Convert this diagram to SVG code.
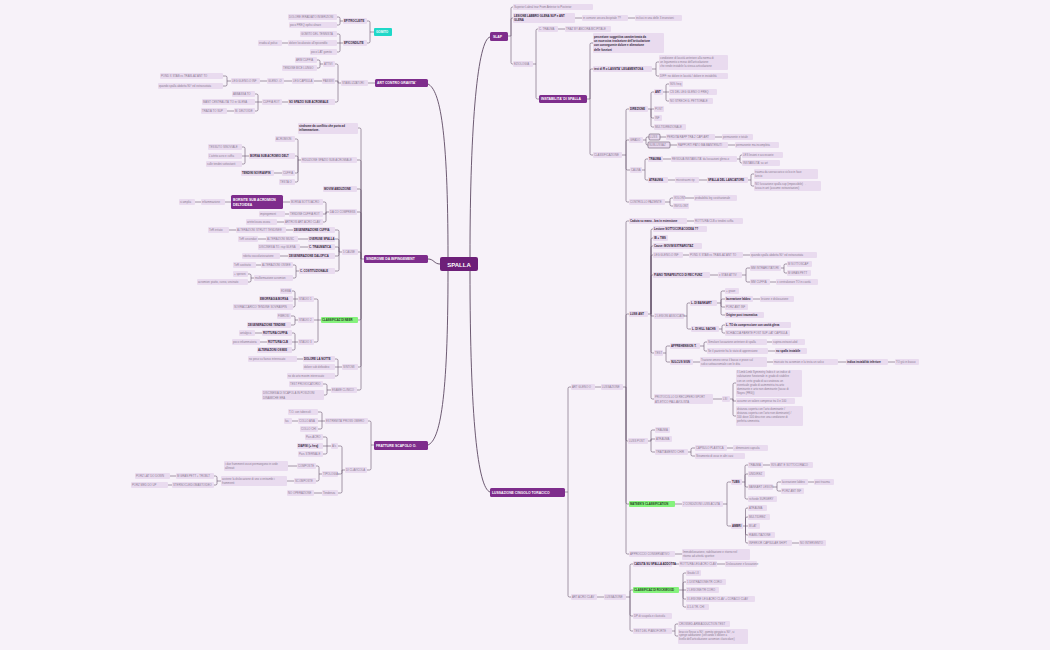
<svg xmlns="http://www.w3.org/2000/svg" width="1050" height="650" viewBox="0 0 1050 650">
<style>
text{font-family:"Liberation Sans",Arial,sans-serif;font-size:2.8px;fill:#8c7c93}
.n rect{fill:#e9dbef}
.k rect{fill:#e9dbef}
.k text{font-weight:bold;fill:#33263a}
.x rect{fill:#e9dbef;stroke:#4a3a50;stroke-width:0.5}
.m rect{fill:#7e2d8c}
.m text{font-size:3.4px;font-weight:bold;fill:#ffffff}
.g rect{fill:#86f27d}
.g text{font-weight:bold;fill:#1f3a1c}
.c rect{fill:#1fd8c8}
.c text{font-size:3px;font-weight:bold;fill:#ffffff}
#links path{fill:none;stroke:#5d4a63;stroke-width:0.55}
#main-links path{fill:none;stroke:#5d4a63;stroke-width:0.9}
</style>
<rect width="1050" height="650" fill="#f7f2f9"/>
<g id="main-links">
<path d="M470,257C470,120 478,40 490,37"/>
<path d="M470,271C470,420 478,488 490,492"/>
<path d="M448,257C448,130 440,90 428,84"/>
<path d="M440,264C434,264 434,259 428,259"/>
<path d="M448,271C448,400 440,440 428,445"/>
</g>
<g id="links">
<path d="M374,32H370 M370,32V22.5Q370,21 368.5,21H367 M370,32V41.5Q370,43 368.5,43H367"/>
<path d="M343,21H340 M340,21V18.5Q340,17 338.5,17H337 M340,21V23.5Q340,25 338.5,25H337"/>
<path d="M343,43H340 M340,43V35.5Q340,34 338.5,34H337 M340,43H337 M340,43V50.5Q340,52 338.5,52H337 M288,43H282"/>
<path d="M375,83H368 M341,83H338 M338,83V65.5Q338,64 336.5,64H335 M338,83L338,81H335 M338,83V100.5Q338,102 336.5,102H335"/>
<path d="M323,64H320 M320,64V61.5Q320,60 318.5,60H317 M320,64V66.5Q320,68 318.5,68H317"/>
<path d="M322,81H314 M292,81H284 M267,81H260 M231,81H227 M227,81V77.5Q227,76 225.5,76H223 M227,81V84.5Q227,86 225.5,86H223"/>
<path d="M288,102H282 M262,102H258 M258,102V95.5Q258,94 256.5,94H255 M258,102H255 M258,102V109.5Q258,111 256.5,111H255 M234,111H227"/>
<path d="M364,259H361 M361,259V129.5Q361,128 359.5,128H358 M361,259V161.5Q361,160 359.5,160H357 M361,259V190.5Q361,189 359.5,189H357 M361,259V213.5Q361,212 359.5,212H357 M361,259V253.5Q361,252 359.5,252H358 M361,259V318.5Q361,320 359.5,320H358 M361,259V365.5Q361,367 359.5,367H358 M361,259V388.5Q361,390 359.5,390H357"/>
<path d="M301,160H298 M298,160V140.5Q298,139 296.5,139H295 M298,160V157.5Q298,156 296.5,156H295 M298,160V171.5Q298,173 296.5,173H295 M298,160V180.5Q298,182 296.5,182H295"/>
<path d="M249,156H245 M245,156V148.5Q245,147 243.5,147H242 M245,156H242 M245,156V162.5Q245,164 243.5,164H242 M282,173H274"/>
<path d="M329,212H326 M326,212V203.5Q326,202 324.5,202H323 M326,212L326,214H323 M326,212V220.5Q326,222 324.5,222H323 M290,202H283 M231,202H225 M201,202H195 M289,214H285 M284,222H277"/>
<path d="M342,252H339 M339,252V231.5Q339,230 337.5,230H335 M339,252V240.5Q339,239 337.5,239H335 M339,252V248.5Q339,247 337.5,247H335 M339,252V254.5Q339,256 337.5,256H335 M339,252V269.5Q339,271 337.5,271H335"/>
<path d="M293,230H286 M236,230H229 M308,239H298 M266,239H258 M308,247H300 M288,256H280"/>
<path d="M299,271H296 M296,271V266.5Q296,265 294.5,265H293 M296,271V276.5Q296,278 294.5,278H293 M261,265H256 M254,278H251 M251,278V275.5Q251,274 249.5,274H248 M251,278V280.5Q251,282 249.5,282H248"/>
<path d="M321,320H318 M318,320V300.5Q318,299 316.5,299H314 M318,320H314 M318,320V340.5Q318,342 316.5,342H314"/>
<path d="M298,299H295 M295,299V292.5Q295,291 293.5,291H292 M295,299H292 M295,299V305.5Q295,307 293.5,307H292"/>
<path d="M298,320H295 M295,320V317.5Q295,316 293.5,316H291 M295,320V323.5Q295,325 293.5,325H291"/>
<path d="M298,342H295 M295,342V334.5Q295,333 293.5,333H292 M295,342H292 M295,342V348.5Q295,350 293.5,350H292 M262,333H255 M267,342H260"/>
<path d="M342,367H338 M338,367V360.5Q338,359 336.5,359H335 M338,367H335 M338,367V374.5Q338,376 336.5,376H335 M303,359H297"/>
<path d="M331,390H327 M327,390V385.5Q327,384 325.5,384H323 M327,390V393.5Q327,395 325.5,395H324"/>
<path d="M374,445H371 M371,445V422.5Q371,421 369.5,421H368 M371,445V468.5Q371,470 369.5,470H367"/>
<path d="M325,421H322 M322,421V413.5Q322,412 320.5,412H318 M322,421H318 M322,421V427.5Q322,429 320.5,429H318 M298,421H292"/>
<path d="M345,470H342 M342,470V447.5Q342,446 340.5,446H338 M342,470V472.5Q342,474 340.5,474H338 M342,470V491.5Q342,493 340.5,493H338"/>
<path d="M331,446H327 M327,446V438.5Q327,437 325.5,437H323 M327,446H323 M327,446V452.5Q327,454 325.5,454H323"/>
<path d="M322,474H319 M319,474V467.5Q319,466 317.5,466H316 M319,474V479.5Q319,481 317.5,481H316 M297,466H288 M294,481H287"/>
<path d="M221,481H217 M217,481V477.5Q217,476 215.5,476H214 M217,481V483.5Q217,485 215.5,485H214 M176,476H170 M172,485H168 M322,493H314"/>
<path d="M508,36H511 M511,36V8.5Q511,7 512.5,7H513 M511,36V19.5Q511,18 512.5,18H513 M511,36V62.5Q511,64 512.5,64H513 M575,18H582 M628,18H635"/>
<path d="M533,64H536 M536,64V30.5Q536,29 537.5,29H538 M536,64V97.5Q536,99 537.5,99H539 M558,29H565"/>
<path d="M587,99H590 M590,99V44.5Q590,43 591.5,43H593 M590,99V70.5Q590,69 591.5,69H593 M590,99V153.5Q590,155 591.5,155H593"/>
<path d="M652,69H656 M656,69V63.5Q656,62 657.5,62H659 M656,69V74.5Q656,76 657.5,76H659"/>
<path d="M622,155H626 M626,155V110.5Q626,109 627.5,109H629 M626,155V141.5Q626,140 627.5,140H629 M626,155V168.5Q626,170 627.5,170H630 M626,155V200.5Q626,202 627.5,202H629"/>
<path d="M648,109H651 M651,109V93.5Q651,92 652.5,92H654 M651,109H654 M651,109V116.5Q651,118 652.5,118H654 M651,109V125.5Q651,127 652.5,127H654"/>
<path d="M663,92H666 M666,92V85.5Q666,84 667.5,84H669 M666,92H669 M666,92V99.5Q666,101 667.5,101H669"/>
<path d="M643,140H646 M646,140V138.5Q646,137 647.5,137H649 M646,140V143.5Q646,145 647.5,145H648 M660,137H666 M715,137H722 M670,145H677 M728,145H735"/>
<path d="M642,170H645 M645,170V160.5Q645,159 646.5,159H648 M645,170V178.5Q645,180 646.5,180H648 M663,159H671 M737,159H740 M740,159V156.5Q740,155 741.5,155H742 M740,159V161.5Q740,163 741.5,163H742"/>
<path d="M668,180H675 M699,180H707 M748,180H751 M751,180V175.5Q751,174 752.5,174H754 M751,180V184.5Q751,186 752.5,186H754"/>
<path d="M665,202H670 M670,202V199.5Q670,198 671.5,198H673 M670,202V204.5Q670,206 671.5,206H673 M685,198H694"/>
<path d="M565,492H568 M568,492V388.5Q568,387 569.5,387H571 M568,492V595.5Q568,597 569.5,597H571 M595,387H601"/>
<path d="M623,387H626 M626,387V222.5Q626,221 627.5,221H629 M626,387V315.5Q626,314 627.5,314H629 M626,387V439.5Q626,441 627.5,441H628 M626,387V502.5Q626,504 627.5,504H629 M626,387V552.5Q626,554 627.5,554H629 M687,221H694"/>
<path d="M648,314H651 M651,314V230.5Q651,229 652.5,229H653 M651,314V239.5Q651,238 652.5,238H653 M651,314V247.5Q651,246 652.5,246H653 M651,314V256.5Q651,255 652.5,255H653 M651,314V276.5Q651,275 652.5,275H653 M651,314L651,316H654 M651,314V351.5Q651,353 652.5,353H654 M651,314V397.5Q651,399 652.5,399H654"/>
<path d="M683,255H689 M743,255H750 M710,275H718 M742,275H746 M746,275V269.5Q746,268 747.5,268H750 M746,275V280.5Q746,282 747.5,282H750 M781,268H784 M784,268V265.5Q784,264 785.5,264H787 M784,268V271.5Q784,273 785.5,273H787 M770,282H776"/>
<path d="M684,316H687 M687,316V304.5Q687,303 688.5,303H690 M687,316V327.5Q687,329 688.5,329H691"/>
<path d="M717,303H721 M721,303V292.5Q721,291 722.5,291H725 M721,303V300.5Q721,299 722.5,299H725 M721,303V305.5Q721,307 722.5,307H725 M721,303V313.5Q721,315 722.5,315H725 M753,299H760"/>
<path d="M719,329H722 M722,329V326.5Q722,325 723.5,325H725 M722,329V331.5Q722,333 723.5,333H725"/>
<path d="M663,353H666 M666,353V347.5Q666,346 667.5,346H670 M666,353V360.5Q666,362 667.5,362H670 M700,346H704 M704,346V343.5Q704,342 705.5,342H707 M704,346V349.5Q704,351 705.5,351H707 M767,342H772 M768,351H775"/>
<path d="M693,362H700 M767,362H773 M838,362H846 M888,362H895 M713,399H722"/>
<path d="M730,399H733 M733,399V384.5Q733,383 734.5,383H736 M733,399L733,401H736 M733,399V414.5Q733,416 734.5,416H736"/>
<path d="M648,441H651 M651,441V431.5Q651,430 652.5,430H655 M651,441L651,439H655 M651,441V450.5Q651,452 652.5,452H655 M688,452H691 M691,452V449.5Q691,448 692.5,448H695 M691,452V454.5Q691,456 692.5,456H695 M727,448H733"/>
<path d="M675,504H682 M723,504H727 M727,504V483.5Q727,482 728.5,482H731 M727,504V524.5Q727,526 728.5,526H731"/>
<path d="M742,482H745 M745,482V466.5Q745,465 746.5,465H748 M745,482V475.5Q745,474 746.5,474H748 M745,482V485.5Q745,487 746.5,487H748 M745,482V497.5Q745,499 746.5,499H748 M763,465H770"/>
<path d="M773,487H777 M777,487V483.5Q777,482 778.5,482H781 M777,487V489.5Q777,491 778.5,491H781 M808,482H814"/>
<path d="M743,526H745.5 M745.5,526V509.5Q745.5,508 747,508H748 M745.5,526V518.5Q745.5,517 747,517H748 M745.5,526H748 M745.5,526V533.5Q745.5,535 747,535H748 M745.5,526V541.5Q745.5,543 747,543H748 M792,543H799 M675,554H682"/>
<path d="M597,597H604 M626,597H630 M630,597V565.5Q630,564 631.5,564H633 M630,597V591.5Q630,590 631.5,590H633 M630,597V614.5Q630,616 631.5,616H633 M630,597V629.5Q630,631 631.5,631H633 M672,564H679 M717,564H725"/>
<path d="M679,590H683 M683,590V574.5Q683,573 684.5,573H686 M683,590V583.5Q683,582 684.5,582H686 M683,590H686 M683,590V597.5Q683,599 684.5,599H686 M683,590V605.5Q683,607 684.5,607H686"/>
<path d="M672,631H675 M675,631V625.5Q675,624 676.5,624H678 M675,631V634.5Q675,636 676.5,636H678"/>
</g>
<g id="spalla"><rect x="440" y="257" width="38" height="14" rx="2" fill="#6d1f78"/><text x="459" y="266.6" text-anchor="middle" style="font-size:6px;font-weight:bold;fill:#fff">SPALLA</text></g>
<g id="gomito" class="c"><rect x="374" y="28" width="18" height="8" rx="1"/><text x="376" y="33.1">GOMITO</text></g>
<g id="epitrocleite" class="k"><rect x="343" y="18" width="24" height="6" rx="1"/><text x="344" y="22">EPITROCLEITE</text></g>
<g id="dolore-irr" class="n"><rect x="288" y="14" width="49" height="6" rx="1"/><text x="289" y="18">DOLORE IRRADIATO INSERZIONI</text></g>
<g id="poco-freq" class="n"><rect x="289" y="22" width="48" height="6" rx="1"/><text x="290" y="26">poco FREQ epifisi ulnare</text></g>
<g id="epicondilite" class="k"><rect x="343" y="40" width="24" height="6" rx="1"/><text x="344" y="44">EPICONDILITE</text></g>
<g id="gomito-tennista" class="n"><rect x="300" y="31" width="37" height="6" rx="1"/><text x="301" y="35">GOMITO DEL TENNISTA</text></g>
<g id="dolore-loc" class="n"><rect x="288" y="40" width="49" height="6" rx="1"/><text x="289" y="44">dolore localizzato all'epicondilo</text></g>
<g id="irradia" class="n"><rect x="258" y="40" width="24" height="6" rx="1"/><text x="259" y="44">irradia al polso</text></g>
<g id="poco-lat" class="n"><rect x="310" y="49" width="27" height="6" rx="1"/><text x="311" y="53">poco LAT gomito</text></g>
<g id="art-contro" class="m"><rect x="375" y="79" width="53" height="8" rx="1.5"/><text x="377" y="84.2">ART CONTRO GRAVITA'</text></g>
<g id="stabilizzatori" class="n"><rect x="341" y="80" width="27" height="6" rx="1"/><text x="342" y="84">STABILIZZATORI</text></g>
<g id="attivi" class="n"><rect x="323" y="61" width="12" height="6" rx="1"/><text x="324" y="65">ATTIVI</text></g>
<g id="arm-cuffia" class="n"><rect x="295" y="57" width="22" height="6" rx="1"/><text x="296" y="61">ARM CUFFIA</text></g>
<g id="tendine-bice" class="n"><rect x="282" y="65" width="35" height="6" rx="1"/><text x="283" y="69">TENDINE BICE LUNGO</text></g>
<g id="passivi" class="n"><rect x="322" y="78" width="13" height="6" rx="1"/><text x="323" y="82">PASSIVI</text></g>
<g id="leg-capsula" class="n"><rect x="292" y="78" width="22" height="6" rx="1"/><text x="293" y="82">LEG CAPSULA</text></g>
<g id="gleno-o" class="n"><rect x="267" y="78" width="17" height="6" rx="1"/><text x="268" y="82">GLENO -O</text></g>
<g id="leg-gleno-inf" class="n"><rect x="231" y="78" width="29" height="6" rx="1"/><text x="232" y="82">LEG GLENO-O INF</text></g>
<g id="pond" class="n"><rect x="160" y="73" width="63" height="6" rx="1"/><text x="161" y="77">POND X STAB vs TRASLAZ ANT TO</text></g>
<g id="quando" class="n"><rect x="158" y="83" width="65" height="6" rx="1"/><text x="159" y="87">quando spalla abdotta 90° ed extraruotata</text></g>
<g id="so-spazio" class="k"><rect x="288" y="99" width="47" height="6" rx="1"/><text x="289" y="103">SO SPAZIO SUB ACROMIALE</text></g>
<g id="cuffia-rot" class="n"><rect x="262" y="99" width="20" height="6" rx="1"/><text x="263" y="103">CUFFIA ROT</text></g>
<g id="abbassa" class="n"><rect x="232" y="91" width="23" height="6" rx="1"/><text x="233" y="95">ABBASSA TO</text></g>
<g id="mant" class="n"><rect x="202" y="99" width="53" height="6" rx="1"/><text x="203" y="103">MANT CENTRALITA' TO in GLENA</text></g>
<g id="m-deltoide" class="n"><rect x="234" y="108" width="21" height="6" rx="1"/><text x="235" y="112">M. DELTOIDE</text></g>
<g id="traz-sup" class="n"><rect x="201" y="108" width="26" height="6" rx="1"/><text x="202" y="112">TRAZ/A TO SUP</text></g>
<g id="sindrome" class="m"><rect x="364" y="255" width="64" height="8" rx="1.5"/><text x="366" y="260.2">SINDROME DA IMPINGEMENT</text></g>
<g id="conflitto" class="k"><rect x="298" y="123" width="60" height="11" rx="1"/><text x="299" y="126.6">sindrome da conflitto che porta ad</text><text x="299" y="131.4">infiammazione.</text></g>
<g id="riduzione" class="n"><rect x="301" y="157" width="56" height="6" rx="1"/><text x="302" y="161">RIDUZIONE SPAZIO SUB ACROMIALE</text></g>
<g id="acromion" class="n"><rect x="275" y="136" width="20" height="6" rx="1"/><text x="276" y="140">ACROMION</text></g>
<g id="borsa-sub" class="k"><rect x="249" y="153" width="46" height="6" rx="1"/><text x="250" y="157">BORSA SUB ACROMIO DELT</text></g>
<g id="tessuto" class="n"><rect x="208" y="144" width="34" height="6" rx="1"/><text x="209" y="148">TESSUTO SINOVIALE</text></g>
<g id="attrito" class="n"><rect x="208" y="153" width="34" height="6" rx="1"/><text x="209" y="157">L'attrito acro e cuffia</text></g>
<g id="sulle" class="n"><rect x="206" y="161" width="36" height="6" rx="1"/><text x="207" y="165">sulle tendini sottostanti</text></g>
<g id="cuffia" class="n"><rect x="282" y="170" width="13" height="6" rx="1"/><text x="283" y="174">CUFFIA</text></g>
<g id="tendini-sovr" class="k"><rect x="241" y="170" width="33" height="6" rx="1"/><text x="242" y="174">TENDINI SOVRASPIN</text></g>
<g id="testa" class="n"><rect x="279" y="179" width="16" height="6" rx="1"/><text x="280" y="183">TESTA O</text></g>
<g id="movim" class="k"><rect x="323" y="186" width="34" height="6" rx="1"/><text x="324" y="190">MOVIM ABDUZIONE</text></g>
<g id="borsite" class="m"><rect x="231" y="195" width="52" height="14" rx="1.5"/><text x="233" y="200.5">BORSITE SUB ACROMION</text><text x="233" y="205.8">DELTOIDEA</text></g>
<g id="infiammazione" class="n"><rect x="201" y="199" width="24" height="6" rx="1"/><text x="202" y="203">infiammazione</text></g>
<g id="si-amplia" class="n"><rect x="179" y="199" width="16" height="6" rx="1"/><text x="180" y="203">si amplia</text></g>
<g id="borsa-sotto" class="n"><rect x="290" y="199" width="33" height="6" rx="1"/><text x="291" y="203">BORSA SOTTOACRO</text></g>
<g id="da-co" class="n"><rect x="329" y="209" width="28" height="6" rx="1"/><text x="330" y="213">DA CO COMPRESS</text></g>
<g id="impingement" class="n"><rect x="259" y="211" width="26" height="6" rx="1"/><text x="260" y="215">impingement</text></g>
<g id="tendine-cuffia" class="n"><rect x="289" y="211" width="34" height="6" rx="1"/><text x="290" y="215">TENDINE CUFFIA ROT</text></g>
<g id="artrite" class="n"><rect x="246" y="219" width="31" height="6" rx="1"/><text x="247" y="223">artrite/usura ossea</text></g>
<g id="artrosi" class="n"><rect x="284" y="219" width="39" height="6" rx="1"/><text x="285" y="223">ARTROSI ART ACRO CLAV</text></g>
<g id="ter-irr" class="n"><rect x="208" y="227" width="21" height="6" rx="1"/><text x="209" y="231">TeR irritato</text></g>
<g id="alt-strutt" class="n"><rect x="236" y="227" width="50" height="6" rx="1"/><text x="237" y="231">ALTERAZIONI STRUTT TENDINEE</text></g>
<g id="deg-cuffia" class="k"><rect x="293" y="227" width="42" height="6" rx="1"/><text x="294" y="231">DEGENERAZIONE CUFFIA</text></g>
<g id="ter-sec" class="n"><rect x="238" y="236" width="20" height="6" rx="1"/><text x="239" y="240">TeR secondari</text></g>
<g id="alt-musc" class="n"><rect x="266" y="236" width="32" height="6" rx="1"/><text x="267" y="240">ALTERAZIONI MUSC</text></g>
<g id="overuse" class="k"><rect x="308" y="236" width="27" height="6" rx="1"/><text x="309" y="240">OVERUSE SPALLA</text></g>
<g id="discinesia-to" class="n"><rect x="258" y="244" width="42" height="6" rx="1"/><text x="259" y="248">DISCINESIA TO. risp GLENA</text></g>
<g id="c-traum" class="k"><rect x="308" y="244" width="27" height="6" rx="1"/><text x="309" y="248">C. TRAUMATICA</text></g>
<g id="cinque-cause" class="n"><rect x="342" y="249" width="16" height="6" rx="1"/><text x="343" y="253">5 CAUSE</text></g>
<g id="ridotta" class="n"><rect x="242" y="253" width="38" height="6" rx="1"/><text x="243" y="257">ridotta vascolarizzazione</text></g>
<g id="deg-dal" class="k"><rect x="288" y="253" width="47" height="6" rx="1"/><text x="289" y="257">DEGENERAZIONE DALOPICA</text></g>
<g id="ter-sost" class="n"><rect x="233" y="262" width="23" height="6" rx="1"/><text x="234" y="266">TeR sostituito</text></g>
<g id="alt-ossee1" class="n"><rect x="261" y="262" width="32" height="6" rx="1"/><text x="262" y="266">ALTERAZIONI OSSEE</text></g>
<g id="c-cost" class="k"><rect x="299" y="268" width="36" height="6" rx="1"/><text x="300" y="272">C. COSTITUZIONALE</text></g>
<g id="speroni" class="n"><rect x="233" y="271" width="15" height="6" rx="1"/><text x="234" y="275">+ speroni</text></g>
<g id="malformazione" class="n"><rect x="254" y="275" width="39" height="6" rx="1"/><text x="255" y="279">malformazione acromion</text></g>
<g id="acromion-tipi" class="n"><rect x="197" y="279" width="51" height="6" rx="1"/><text x="198" y="283">acromion: piatto, curvo, uncinato</text></g>
<g id="edema" class="n"><rect x="280" y="288" width="12" height="6" rx="1"/><text x="281" y="292">EDEMA</text></g>
<g id="emorragia" class="k"><rect x="259" y="296" width="34" height="6" rx="1"/><text x="260" y="300">EMORRAGIA BORSA</text></g>
<g id="sovraccarico" class="n"><rect x="233" y="304" width="60" height="6" rx="1"/><text x="234" y="308">SOVRACCARICO TENDINE SOVRASPIN</text></g>
<g id="stadio1" class="n"><rect x="298" y="296" width="16" height="6" rx="1"/><text x="299" y="300">STADIO 1</text></g>
<g id="fibrosi" class="n"><rect x="277" y="313" width="14" height="6" rx="1"/><text x="278" y="317">FIBROSI</text></g>
<g id="deg-tendine" class="k"><rect x="247" y="322" width="44" height="6" rx="1"/><text x="248" y="326">DEGENERAZIONE TENDINE</text></g>
<g id="stadio2" class="n"><rect x="298" y="317" width="16" height="6" rx="1"/><text x="299" y="321">STADIO 2</text></g>
<g id="neer" class="g"><rect x="321" y="317" width="37" height="6" rx="1"/><text x="322" y="321">CLASSIFICAZ DI NEER</text></g>
<g id="antalgica" class="n"><rect x="239" y="330" width="16" height="6" rx="1"/><text x="240" y="334">antalgica</text></g>
<g id="rott-cuffia" class="k"><rect x="262" y="330" width="30" height="6" rx="1"/><text x="263" y="334">ROTTURA CUFFIA</text></g>
<g id="poco-inf" class="n"><rect x="232" y="339" width="28" height="6" rx="1"/><text x="233" y="343">poco infiammatoria</text></g>
<g id="rott-clb" class="k"><rect x="267" y="339" width="25" height="6" rx="1"/><text x="268" y="343">ROTTURA CLB</text></g>
<g id="stadio3" class="n"><rect x="298" y="339" width="16" height="6" rx="1"/><text x="299" y="343">STADIO 3</text></g>
<g id="alt-ossee2" class="k"><rect x="257" y="347" width="35" height="6" rx="1"/><text x="258" y="351">ALTERAZIONI OSSEE</text></g>
<g id="no-peso" class="n"><rect x="248" y="356" width="49" height="6" rx="1"/><text x="249" y="360">no peso su fianco interessato</text></g>
<g id="dolore-notte" class="k"><rect x="303" y="356" width="32" height="6" rx="1"/><text x="304" y="360">DOLORE LA NOTTE</text></g>
<g id="dolore-sub" class="n"><rect x="303" y="364" width="32" height="6" rx="1"/><text x="304" y="368">dolore sub deltoideo</text></g>
<g id="sintomi" class="n"><rect x="342" y="364" width="16" height="6" rx="1"/><text x="343" y="368">SINTOMI</text></g>
<g id="no-do" class="n"><rect x="287" y="373" width="48" height="6" rx="1"/><text x="288" y="377">no do arto movim interessato</text></g>
<g id="test-prov" class="n"><rect x="289" y="381" width="34" height="6" rx="1"/><text x="290" y="385">TEST PROVOCATORIO</text></g>
<g id="esame" class="n"><rect x="331" y="387" width="26" height="6" rx="1"/><text x="332" y="391">ESAME CLINICO</text></g>
<g id="discinesia-scap" class="n"><rect x="262" y="390" width="62" height="10" rx="1"/><text x="263" y="394.3">DISCINESIA DI SCAPOLA IN POSIZIONI</text><text x="263" y="398.6">DINAMICHE ERA</text></g>
<g id="fratture" class="m"><rect x="374" y="441" width="54" height="9" rx="1.5"/><text x="376" y="446.7">FRATTURE SCAPOLO O.</text></g>
<g id="to-tub" class="n"><rect x="288" y="409" width="30" height="6" rx="1"/><text x="289" y="413">T.O. con tubercoli</text></g>
<g id="fas" class="n"><rect x="284" y="418" width="8" height="6" rx="1"/><text x="285" y="422">fas</text></g>
<g id="collo-ana" class="n"><rect x="298" y="418" width="20" height="6" rx="1"/><text x="299" y="422">COLLO ANA</text></g>
<g id="collo-chi" class="n"><rect x="300" y="426" width="18" height="6" rx="1"/><text x="301" y="430">COLLO CHI</text></g>
<g id="estremita" class="n"><rect x="325" y="418" width="43" height="6" rx="1"/><text x="326" y="422">ESTREMITA' PROSS OMERO</text></g>
<g id="pars-acro" class="n"><rect x="305" y="434" width="18" height="6" rx="1"/><text x="306" y="438">Pars ACRO</text></g>
<g id="diafisi" class="k"><rect x="297" y="443" width="26" height="6" rx="1"/><text x="298" y="447">DIAFISI (+ freq)</text></g>
<g id="pars-stern" class="n"><rect x="298" y="451" width="25" height="6" rx="1"/><text x="299" y="455">Pars STERNALE</text></g>
<g id="as" class="n"><rect x="331" y="443" width="7" height="6" rx="1"/><text x="332" y="447">A/s</text></g>
<g id="di-clav" class="n"><rect x="345" y="467" width="22" height="6" rx="1"/><text x="346" y="471">DI CLAVICOLA</text></g>
<g id="i-due" class="n"><rect x="224" y="461" width="64" height="10" rx="1"/><text x="225" y="465">i due frammenti ossei permangono in sede</text><text x="225" y="469.3">allineati</text></g>
<g id="composte" class="n"><rect x="297" y="463" width="19" height="6" rx="1"/><text x="298" y="467">COMPOSTE</text></g>
<g id="avviene" class="n"><rect x="221" y="476" width="66" height="10" rx="1"/><text x="222" y="480">avviene la dislocazione di uno o entrambi i</text><text x="222" y="484.3">frammenti</text></g>
<g id="scomposte" class="n"><rect x="294" y="478" width="22" height="6" rx="1"/><text x="295" y="482">SCOMPOSTE</text></g>
<g id="tipologia" class="n"><rect x="322" y="471" width="16" height="6" rx="1"/><text x="323" y="475">TIPOLOGIA</text></g>
<g id="m-gran-pett" class="n"><rect x="176" y="473" width="38" height="6" rx="1"/><text x="177" y="477">M GRAN PETT + TROBLT</text></g>
<g id="sterno" class="n"><rect x="172" y="482" width="42" height="6" rx="1"/><text x="173" y="486">STERNOCLEIDOMASTOIDEO</text></g>
<g id="porz-lat" class="n"><rect x="135" y="473" width="35" height="6" rx="1"/><text x="136" y="477">PORZ LAT DO DOWN</text></g>
<g id="porz-med" class="n"><rect x="131" y="482" width="37" height="6" rx="1"/><text x="132" y="486">PORZ MED DO UP</text></g>
<g id="no-op" class="n"><rect x="287" y="490" width="27" height="6" rx="1"/><text x="288" y="494">NO OPERAZIONE</text></g>
<g id="tendenza" class="n"><rect x="322" y="490" width="16" height="6" rx="1"/><text x="323" y="494">Tendenza</text></g>
<g id="slap" class="m"><rect x="490" y="32" width="18" height="9" rx="1.5"/><text x="493" y="37.7">SLAP</text></g>
<g id="superior" class="n"><rect x="513" y="4" width="80" height="6" rx="1"/><text x="514" y="8">Superior Labral tear From Anterior to Posterior</text></g>
<g id="lesione-labbro" class="k"><rect x="513" y="13" width="62" height="10" rx="1"/><text x="514" y="16.9">LESIONE LABBRO GLENA SUP e ANT</text><text x="514" y="21.2">GLENA</text></g>
<g id="in-comune" class="n"><rect x="582" y="15" width="46" height="6" rx="1"/><text x="583" y="19">in comune ancora bicipitale  ??</text></g>
<g id="inclusi" class="n"><rect x="635" y="15" width="47" height="6" rx="1"/><text x="636" y="19">inclusi in una delle 3 inserzioni</text></g>
<g id="eziologia" class="n"><rect x="513" y="61" width="20" height="6" rx="1"/><text x="514" y="65">EZIOLOGIA</text></g>
<g id="c-trauma" class="n"><rect x="538" y="26" width="20" height="6" rx="1"/><text x="539" y="30">C. TRAUMA</text></g>
<g id="traz-by" class="n"><rect x="565" y="26" width="46" height="6" rx="1"/><text x="566" y="30">TRAZ BY ANCORA BICIPITALE</text></g>
<g id="instabilita" class="m"><rect x="539" y="95" width="48" height="8" rx="1.5"/><text x="541" y="100.2">INSTABILITA' DI SPALLA</text></g>
<g id="percezione" class="k"><rect x="593" y="33" width="71" height="20" rx="1"/><text x="594" y="37.6">percezione soggettiva caratterizzata da</text><text x="594" y="41.9">un eccessiva traslazione dell'articolazione</text><text x="594" y="46.2">con conseguente dolore e alterazione</text><text x="594" y="50.5">delle funzioni</text></g>
<g id="test-r" class="k"><rect x="593" y="66" width="59" height="6" rx="1"/><text x="594" y="70">test di R o LASSITA' LEGAMENTOSA</text></g>
<g id="condizione" class="n"><rect x="659" y="55" width="69" height="15" rx="1"/><text x="660" y="58.8">condizione di lassità anteriore alla norma di</text><text x="660" y="62.9">un legamento o meso dell'articolazione</text><text x="660" y="67">che rende instabile la stessa articolazione</text></g>
<g id="diff" class="n"><rect x="659" y="73" width="69" height="6" rx="1"/><text x="660" y="77">DIFF: no dolore in lassità / dolore in instabilità</text></g>
<g id="classificazione" class="n"><rect x="593" y="152" width="29" height="6" rx="1"/><text x="594" y="156">CLASSIFICAZIONE</text></g>
<g id="direzione" class="k"><rect x="629" y="106" width="19" height="6" rx="1"/><text x="630" y="110">DIREZIONE</text></g>
<g id="ant" class="k"><rect x="654" y="89" width="9" height="6" rx="1"/><text x="655" y="93">ANT</text></g>
<g id="freq" class="n"><rect x="669" y="81" width="14" height="6" rx="1"/><text x="670" y="85">90% freq</text></g>
<g id="cs" class="n"><rect x="669" y="89" width="48" height="6" rx="1"/><text x="670" y="93">CS DEL LEG GLENO O FREQ</text></g>
<g id="no-strech" class="n"><rect x="669" y="98" width="44" height="6" rx="1"/><text x="670" y="102">NO STRECH G. PETTORALE</text></g>
<g id="post" class="n"><rect x="654" y="106" width="10" height="6" rx="1"/><text x="655" y="110">POST</text></g>
<g id="inf" class="n"><rect x="654" y="115" width="8" height="6" rx="1"/><text x="655" y="119">INF</text></g>
<g id="multi" class="n"><rect x="654" y="124" width="32" height="6" rx="1"/><text x="655" y="128">MULTIDIREZIONALE</text></g>
<g id="grado" class="n"><rect x="629" y="137" width="14" height="6" rx="1"/><text x="630" y="141">GRADO</text></g>
<g id="luss" class="x"><rect x="649" y="134" width="11" height="6" rx="1"/><text x="650" y="138">LUSS</text></g>
<g id="subluss" class="x"><rect x="648" y="142" width="22" height="6" rx="1"/><text x="649" y="146">SUBLUSSAZ</text></g>
<g id="perdita" class="n"><rect x="666" y="134" width="49" height="6" rx="1"/><text x="667" y="138">PERDITA RAPP TRA 2 CAPI ART</text></g>
<g id="perm-tot" class="n"><rect x="722" y="134" width="31" height="6" rx="1"/><text x="723" y="138">permanente e totale</text></g>
<g id="rapporti" class="n"><rect x="677" y="142" width="51" height="6" rx="1"/><text x="678" y="146">RAPPORTI PATO MA MANTENUTI</text></g>
<g id="perm-inc" class="n"><rect x="735" y="142" width="44" height="6" rx="1"/><text x="736" y="146">permanente ma incompleta</text></g>
<g id="causa" class="n"><rect x="630" y="167" width="12" height="6" rx="1"/><text x="631" y="171">CAUSA</text></g>
<g id="trauma-c" class="k"><rect x="648" y="156" width="15" height="6" rx="1"/><text x="649" y="160">TRAUMA</text></g>
<g id="residua" class="n"><rect x="671" y="156" width="66" height="6" rx="1"/><text x="672" y="160">RESIDUA INSTABILITA' da lussazioni gleno-o</text></g>
<g id="les" class="n"><rect x="742" y="152" width="41" height="6" rx="1"/><text x="743" y="156">LES lesioni e accessorie</text></g>
<g id="instab-su" class="n"><rect x="742" y="160" width="38" height="6" rx="1"/><text x="743" y="164">INSTABILITA' su art</text></g>
<g id="atrauma-c" class="k"><rect x="648" y="177" width="20" height="6" rx="1"/><text x="649" y="181">ATRAUMA</text></g>
<g id="microtraumi" class="n"><rect x="675" y="177" width="24" height="6" rx="1"/><text x="676" y="181">microtraumi rip</text></g>
<g id="spalla-lanc" class="k"><rect x="707" y="177" width="41" height="6" rx="1"/><text x="708" y="181">SPALLA DEL LANCIATORE</text></g>
<g id="trauma-da" class="n"><rect x="754" y="169" width="64" height="10" rx="1"/><text x="755" y="172.7">trauma da sovraccarico ciclico in fase</text><text x="755" y="177">lancio</text></g>
<g id="no-luss" class="n"><rect x="754" y="181" width="67" height="10" rx="1"/><text x="755" y="185">NO lussazione spalla sup (impossibile) →</text><text x="755" y="189.3">lussa in ant (assume extrarotazioni)</text></g>
<g id="controllo" class="n"><rect x="629" y="199" width="36" height="6" rx="1"/><text x="630" y="203">CONTROLLO PAZIENTE</text></g>
<g id="volont" class="n"><rect x="673" y="195" width="12" height="6" rx="1"/><text x="674" y="199">VOLONT</text></g>
<g id="prob" class="n"><rect x="694" y="195" width="43" height="6" rx="1"/><text x="695" y="199">probabilità leg costituzionale</text></g>
<g id="involont" class="n"><rect x="673" y="203" width="16" height="6" rx="1"/><text x="674" y="207">INVOLONT</text></g>
<g id="luss-cingolo" class="m"><rect x="490" y="488" width="75" height="9" rx="1.5"/><text x="492" y="493.7">LUSSAZIONE CINGOLO TORACICO</text></g>
<g id="art-gleno" class="n"><rect x="571" y="384" width="24" height="6" rx="1"/><text x="572" y="388">ART GLENO O</text></g>
<g id="lussazione1" class="n"><rect x="601" y="384" width="22" height="6" rx="1"/><text x="602" y="388">LUSSAZIONE</text></g>
<g id="caduta-mano" class="k"><rect x="629" y="218" width="58" height="6" rx="1"/><text x="630" y="222">Caduta su mano - bra in estensione</text></g>
<g id="rottura-clb2" class="n"><rect x="694" y="218" width="49" height="6" rx="1"/><text x="695" y="222">ROTTURA CLB o tendini cuffia</text></g>
<g id="luss-ant" class="k"><rect x="629" y="311" width="19" height="6" rx="1"/><text x="630" y="315">LUSS ANT</text></g>
<g id="lesione-sotto" class="k"><rect x="653" y="226" width="54" height="6" rx="1"/><text x="654" y="230">Lesione SOTTOCORACOIDEA  ??</text></g>
<g id="ib" class="k"><rect x="653" y="235" width="15" height="6" rx="1"/><text x="654" y="239">IB + TMS</text></g>
<g id="cause-movim" class="k"><rect x="653" y="243" width="49" height="6" rx="1"/><text x="654" y="247">Cause: MOVIM EXTRAROTAZ</text></g>
<g id="leg-gleno2" class="n"><rect x="653" y="252" width="30" height="6" rx="1"/><text x="654" y="256">LEG GLENO-O INF</text></g>
<g id="pond2" class="n"><rect x="689" y="252" width="54" height="6" rx="1"/><text x="690" y="256">POND X STAB vs TRASLAZ ANT TO</text></g>
<g id="quando2" class="n"><rect x="750" y="252" width="67" height="6" rx="1"/><text x="751" y="256">quando spalla abdotta 90° ed extraruotata</text></g>
<g id="piano" class="k"><rect x="653" y="272" width="57" height="6" rx="1"/><text x="654" y="276">PIANO TERAPEUTICO DI REC FUNZ</text></g>
<g id="x-stab" class="n"><rect x="718" y="272" width="24" height="6" rx="1"/><text x="719" y="276">x STAB ATTIV</text></g>
<g id="mm-intra" class="n"><rect x="750" y="265" width="31" height="6" rx="1"/><text x="751" y="269">MM INTRAROTATORI</text></g>
<g id="m-sotto" class="n"><rect x="787" y="261" width="25" height="6" rx="1"/><text x="788" y="265">M SOTTOSCAP</text></g>
<g id="m-gran2" class="n"><rect x="787" y="270" width="24" height="6" rx="1"/><text x="788" y="274">M GRAN PETT</text></g>
<g id="mm-cuffia" class="n"><rect x="750" y="279" width="20" height="6" rx="1"/><text x="751" y="283">MM CUFFIA</text></g>
<g id="x-centr" class="n"><rect x="776" y="279" width="42" height="6" rx="1"/><text x="777" y="283">x centralizzare TO in cavità</text></g>
<g id="due-les" class="n"><rect x="654" y="313" width="30" height="6" rx="1"/><text x="655" y="317">2 LESIONI ASSOCIATE</text></g>
<g id="bankart" class="k"><rect x="690" y="300" width="27" height="6" rx="1"/><text x="691" y="304">L. DI BANKART</text></g>
<g id="grave" class="n"><rect x="725" y="288" width="14" height="6" rx="1"/><text x="726" y="292">+ grave</text></g>
<g id="lacer" class="k"><rect x="725" y="296" width="28" height="6" rx="1"/><text x="726" y="300">lacerazione labbro</text></g>
<g id="lesione-disl" class="n"><rect x="760" y="296" width="34" height="6" rx="1"/><text x="761" y="300">lesione e dislocazione</text></g>
<g id="porz-ant" class="n"><rect x="725" y="304" width="23" height="6" rx="1"/><text x="726" y="308">PORZ ANT INF</text></g>
<g id="origine" class="k"><rect x="725" y="312" width="39" height="6" rx="1"/><text x="726" y="316">Origine post traumatica</text></g>
<g id="hill" class="k"><rect x="691" y="326" width="28" height="6" rx="1"/><text x="692" y="330">L. DI HILL SACHS</text></g>
<g id="l-to" class="k"><rect x="725" y="322" width="66" height="6" rx="1"/><text x="726" y="326">L. TO da compressione con cavità glena</text></g>
<g id="schiaccia" class="n"><rect x="725" y="330" width="65" height="6" rx="1"/><text x="726" y="334">SCHIACCIA PARETE POST SUP-LAT CAPSULA</text></g>
<g id="test" class="n"><rect x="654" y="350" width="9" height="6" rx="1"/><text x="655" y="354">TEST</text></g>
<g id="appreh" class="k"><rect x="670" y="343" width="30" height="6" rx="1"/><text x="671" y="347">APPREHENSION T.</text></g>
<g id="simulare" class="n"><rect x="707" y="339" width="60" height="6" rx="1"/><text x="708" y="343">Simulare lussazione anteriore di spalla</text></g>
<g id="supino" class="n"><rect x="772" y="339" width="33" height="6" rx="1"/><text x="773" y="343">supino-extrarot-abd</text></g>
<g id="se-il" class="n"><rect x="707" y="348" width="61" height="6" rx="1"/><text x="708" y="352">Se il paziente ha lo stato di apprensione</text></g>
<g id="no-spalla" class="k"><rect x="775" y="348" width="32" height="6" rx="1"/><text x="776" y="352">no spalla instabile</text></g>
<g id="sulcus" class="k"><rect x="670" y="359" width="23" height="6" rx="1"/><text x="671" y="363">SULCUS SIGN</text></g>
<g id="trazione" class="n"><rect x="700" y="357" width="67" height="10" rx="1"/><text x="701" y="361">Trazione omero verso il basso e prove sul</text><text x="701" y="365.2">solco sottoacromiale con le dita</text></g>
<g id="marcato" class="n"><rect x="773" y="359" width="65" height="6" rx="1"/><text x="774" y="363">marcato tra acromion e la testa un solco</text></g>
<g id="indica" class="k"><rect x="846" y="359" width="42" height="6" rx="1"/><text x="847" y="363">indica instabilità inferiore</text></g>
<g id="to-giu" class="n"><rect x="895" y="359" width="24" height="6" rx="1"/><text x="896" y="363">TO giù in basso</text></g>
<g id="protocollo" class="n"><rect x="654" y="394" width="59" height="10" rx="1"/><text x="655" y="398.3">PROTOCOLLO DI RECUPERO SPORT</text><text x="655" y="402.5">ATLETICO PALLAVOLISTA</text></g>
<g id="lsi" class="n"><rect x="722" y="396" width="8" height="6" rx="1"/><text x="723" y="400">LSI</text></g>
<g id="limb" class="n"><rect x="736" y="370" width="66" height="27" rx="1"/><text x="737" y="373.3">Il Limb Limb Symmetry Index è un indice di</text><text x="737" y="377.4">valutazione funzionale in grado di stabilire</text><text x="737" y="381.5">con un certo grado di accuratezza un</text><text x="737" y="385.6">eventuale grado di asimmetria tra arto</text><text x="737" y="389.7">dominante e arto non dominante (tasso di</text><text x="737" y="393.8">Noyes (FRG))</text></g>
<g id="assume" class="n"><rect x="736" y="398" width="59" height="6" rx="1"/><text x="737" y="402">assume un valore compreso tra 0 e 100</text></g>
<g id="distanza" class="n"><rect x="736" y="406" width="67" height="20" rx="1"/><text x="737" y="409.7">distanza coperta con l'arto dominante /</text><text x="737" y="413.9">distanza coperta con l'arto non dominante) /</text><text x="737" y="418.1">100 dove 100 descrive una condizione di</text><text x="737" y="422.3">perfetta simmetria</text></g>
<g id="luss-post" class="n"><rect x="628" y="438" width="20" height="6" rx="1"/><text x="629" y="442">LUSS POST</text></g>
<g id="trauma-p" class="n"><rect x="655" y="427" width="15" height="6" rx="1"/><text x="656" y="431">TRAUMA</text></g>
<g id="atrauma-p" class="n"><rect x="655" y="436" width="17" height="6" rx="1"/><text x="656" y="440">ATRAUMA</text></g>
<g id="tratt" class="n"><rect x="655" y="449" width="33" height="6" rx="1"/><text x="656" y="453">TRATTAMENTO CHIR</text></g>
<g id="capsulo" class="n"><rect x="695" y="445" width="32" height="6" rx="1"/><text x="696" y="449">CAPSULO PLASTICA</text></g>
<g id="dim" class="n"><rect x="733" y="445" width="35" height="6" rx="1"/><text x="734" y="449">- dimensioni capsula</text></g>
<g id="stiramento" class="n"><rect x="695" y="453" width="50" height="6" rx="1"/><text x="696" y="457">Stiramento di osso in altri casi</text></g>
<g id="matsen" class="g"><rect x="629" y="501" width="46" height="6" rx="1"/><text x="630" y="505">MATSEN'S CLASSIFICATION</text></g>
<g id="due-cond" class="n"><rect x="682" y="501" width="41" height="6" rx="1"/><text x="683" y="505">2 CONDIZIONI LUSS ACUTA</text></g>
<g id="tubs" class="k"><rect x="731" y="479" width="11" height="6" rx="1"/><text x="732" y="483">TUBS</text></g>
<g id="trauma-t" class="n"><rect x="748" y="462" width="15" height="6" rx="1"/><text x="749" y="466">TRAUMA</text></g>
<g id="ant95" class="n"><rect x="770" y="462" width="43" height="6" rx="1"/><text x="771" y="466">95% ANT E SOTTOCORACO</text></g>
<g id="unidirez" class="n"><rect x="748" y="471" width="17" height="6" rx="1"/><text x="749" y="475">UNIDIREZ</text></g>
<g id="bankart-l" class="n"><rect x="748" y="484" width="25" height="6" rx="1"/><text x="749" y="488">BANKART LESION</text></g>
<g id="lacer2" class="n"><rect x="781" y="479" width="27" height="6" rx="1"/><text x="782" y="483">lacerazione labbro</text></g>
<g id="post-trauma" class="n"><rect x="814" y="479" width="20" height="6" rx="1"/><text x="815" y="483">post trauma</text></g>
<g id="porz-ant2" class="n"><rect x="781" y="488" width="23" height="6" rx="1"/><text x="782" y="492">PORZ ANT INF</text></g>
<g id="richiede" class="n"><rect x="748" y="496" width="29" height="6" rx="1"/><text x="749" y="500">richiede SURGERY</text></g>
<g id="ambri" class="k"><rect x="731" y="523" width="12" height="6" rx="1"/><text x="732" y="527">AMBRI</text></g>
<g id="atrauma-a" class="n"><rect x="748" y="505" width="19" height="6" rx="1"/><text x="749" y="509">ATRAUMA</text></g>
<g id="multidirez" class="n"><rect x="748" y="514" width="22" height="6" rx="1"/><text x="749" y="518">MULTIDIREZ</text></g>
<g id="bilat" class="n"><rect x="748" y="523" width="12" height="6" rx="1"/><text x="749" y="527">BILAT</text></g>
<g id="riab" class="n"><rect x="748" y="532" width="27" height="6" rx="1"/><text x="749" y="536">RIABILITAZIONE</text></g>
<g id="inferior" class="n"><rect x="748" y="540" width="44" height="6" rx="1"/><text x="749" y="544">INFERIOR CAPSULAR SHIFT</text></g>
<g id="no-int" class="n"><rect x="799" y="540" width="27" height="6" rx="1"/><text x="800" y="544">NO INTERVENTO</text></g>
<g id="approccio" class="n"><rect x="629" y="551" width="46" height="6" rx="1"/><text x="630" y="555">APPROCCIO CONSERVATIVO</text></g>
<g id="immob" class="n"><rect x="682" y="549" width="68" height="11" rx="1"/><text x="683" y="552.9">Immobilizzazione, riabilitazione e ritorno nel</text><text x="683" y="557.3">ritorno ad attività sportive</text></g>
<g id="art-acro" class="n"><rect x="571" y="594" width="26" height="6" rx="1"/><text x="572" y="598">ART ACRO CLAV</text></g>
<g id="lussazione2" class="n"><rect x="604" y="594" width="22" height="6" rx="1"/><text x="605" y="598">LUSSAZIONE</text></g>
<g id="caduta-spalla" class="k"><rect x="633" y="561" width="39" height="6" rx="1"/><text x="634" y="565">CADUTA SU SPALLA ADDOTTA</text></g>
<g id="rott-leg" class="n"><rect x="679" y="561" width="38" height="6" rx="1"/><text x="680" y="565">ROTTURA LEG ACRO CLAV</text></g>
<g id="disloc" class="n"><rect x="725" y="561" width="32" height="6" rx="1"/><text x="726" y="565">Dislocazione e lussazione</text></g>
<g id="rockwood" class="g"><rect x="633" y="587" width="46" height="6" rx="1"/><text x="634" y="591">CLASSIFICAZ DI ROCKWOOD</text></g>
<g id="grado12" class="n"><rect x="686" y="570" width="15" height="6" rx="1"/><text x="687" y="574">Grado I-II</text></g>
<g id="g1" class="n"><rect x="686" y="579" width="40" height="6" rx="1"/><text x="687" y="583">1 DISTRAZIONE/TR CORO</text></g>
<g id="g2" class="n"><rect x="686" y="587" width="33" height="6" rx="1"/><text x="687" y="591">2 LESIONE/TR CORO</text></g>
<g id="g3" class="n"><rect x="686" y="596" width="69" height="6" rx="1"/><text x="687" y="600">3 LESIONE LEG ACRO CLAV + CORACO CLAV</text></g>
<g id="g456" class="n"><rect x="686" y="604" width="23" height="6" rx="1"/><text x="687" y="608">4-5-6 TR. CHI</text></g>
<g id="dp" class="n"><rect x="633" y="613" width="39" height="6" rx="1"/><text x="634" y="617">DP di scapola e clavicola</text></g>
<g id="test-piano" class="n"><rect x="633" y="628" width="39" height="6" rx="1"/><text x="634" y="632">TEST DEL PIANOFORTE</text></g>
<g id="crossed" class="n"><rect x="678" y="621" width="52" height="6" rx="1"/><text x="679" y="625">CROSSED-ARM ADDUCTION TEST</text></g>
<g id="braccio" class="n"><rect x="678" y="629" width="70" height="15" rx="1"/><text x="679" y="632.8">braccio flesso a 90°, gomito piegato a 90°, si</text><text x="679" y="636.4">spinge adduzione (cercando il dolore a</text><text x="679" y="640">livello dell'articolazione acromion clavicolare)</text></g>
</svg>
